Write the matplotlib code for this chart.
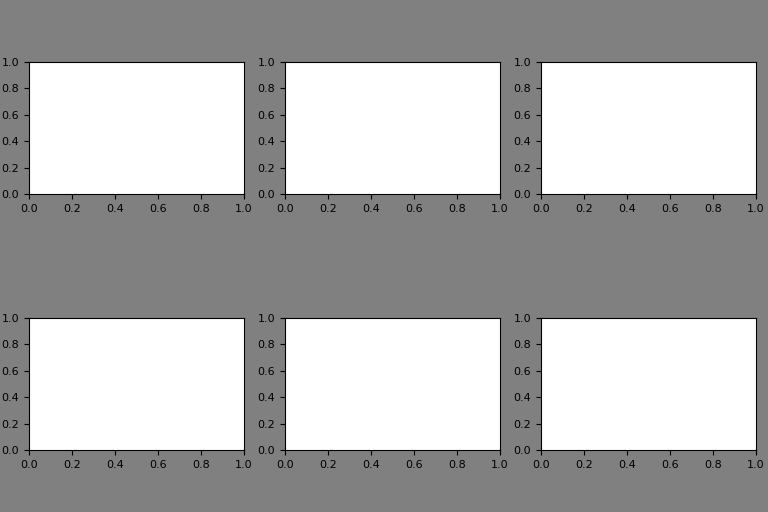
import matplotlib
matplotlib.use("Agg")
import matplotlib.pyplot as plt
import numpy as np

# Сетка пустых осей 2 x 3
n_rows = 2
n_cols = 3
tick_values = [0.0, 0.2, 0.4, 0.6, 0.8, 1.0]

fig, axes = plt.subplots(n_rows, n_cols, figsize=(7.68, 5.12), dpi=100)
fig.patch.set_facecolor('gray')

# Положение осей подобрано по картинке
fig.subplots_adjust(left=29 / 768, right=756 / 768,
                    top=1 - 62 / 512, bottom=1 - 450 / 512,
                    wspace=41 / 215, hspace=124 / 132)

for ax in axes.flat:
    ax.set_xlim(0, 1)
    ax.set_ylim(0, 1)
    ax.set_xticks(tick_values)
    ax.set_yticks(tick_values)
    ax.tick_params(labelsize=8)

fig.savefig('out.png', facecolor=fig.get_facecolor())
plt.close()
